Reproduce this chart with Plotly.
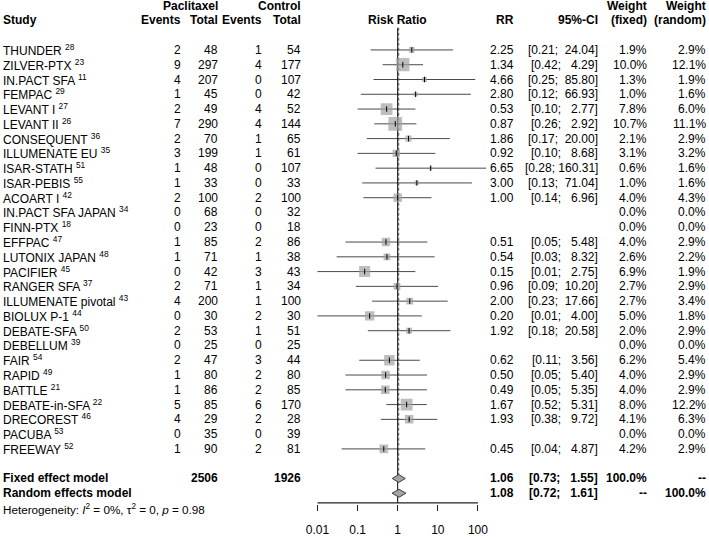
import math
import plotly.graph_objects as go

# ---------------- data ----------------
studies = ["THUNDER", "ZILVER-PTX", "IN.PACT SFA", "FEMPAC", "LEVANT I", "LEVANT II",
           "CONSEQUENT", "ILLUMENATE EU", "ISAR-STATH", "ISAR-PEBIS", "ACOART I",
           "IN.PACT SFA JAPAN", "FINN-PTX", "EFFPAC", "LUTONIX JAPAN", "PACIFIER",
           "RANGER SFA", "ILLUMENATE pivotal", "BIOLUX P-1", "DEBATE-SFA", "DEBELLUM",
           "FAIR", "RAPID", "BATTLE", "DEBATE-in-SFA", "DRECOREST", "PACUBA", "FREEWAY"]
refs = ["28", "23", "11", "29", "27", "26", "36", "35", "51", "55", "42", "34", "18", "47",
        "48", "45", "37", "43", "44", "50", "39", "54", "49", "21", "22", "46", "53", "52"]
pac_events = [2, 9, 4, 1, 2, 7, 2, 3, 1, 1, 2, 0, 0, 1, 1, 0, 2, 4, 0, 2, 0, 2, 1, 1, 5, 4, 0, 1]
pac_total = [48, 297, 207, 45, 49, 290, 70, 199, 48, 33, 100, 68, 23, 85, 71, 42, 71, 200,
             30, 53, 25, 47, 80, 86, 85, 29, 35, 90]
ctl_events = [1, 4, 0, 0, 4, 4, 1, 1, 0, 0, 2, 0, 0, 2, 1, 3, 1, 1, 2, 1, 0, 3, 2, 2, 6, 2, 0, 2]
ctl_total = [54, 177, 107, 42, 52, 144, 65, 61, 107, 33, 100, 32, 18, 86, 38, 43, 34, 100,
             30, 51, 25, 44, 80, 85, 170, 28, 39, 81]
rr = [2.25, 1.34, 4.66, 2.80, 0.53, 0.87, 1.86, 0.92, 6.65, 3.00, 1.00, None, None, 0.51,
      0.54, 0.15, 0.96, 2.00, 0.20, 1.92, None, 0.62, 0.50, 0.49, 1.67, 1.93, None, 0.45]
ci_low = [0.21, 0.42, 0.25, 0.12, 0.10, 0.26, 0.17, 0.10, 0.28, 0.13, 0.14, None, None, 0.05,
          0.03, 0.01, 0.09, 0.23, 0.01, 0.18, None, 0.11, 0.05, 0.05, 0.52, 0.38, None, 0.04]
ci_high = [24.04, 4.29, 85.80, 66.93, 2.77, 2.92, 20.00, 8.68, 160.31, 71.04, 6.96, None, None,
           5.48, 8.32, 2.75, 10.20, 17.66, 4.00, 20.58, None, 3.56, 5.40, 5.35, 5.31, 9.72,
           None, 4.87]
w_fixed = [1.9, 10.0, 1.3, 1.0, 7.8, 10.7, 2.1, 3.1, 0.6, 1.0, 4.0, 0.0, 0.0, 4.0, 2.6, 6.9,
           2.7, 2.7, 5.0, 2.0, 0.0, 6.2, 4.0, 4.0, 8.0, 4.1, 0.0, 4.2]
w_random = [2.9, 12.1, 1.9, 1.6, 6.0, 11.1, 2.9, 3.2, 1.6, 1.6, 4.3, 0.0, 0.0, 2.9, 2.2, 1.9,
            2.9, 3.4, 1.8, 2.9, 0.0, 5.4, 2.9, 2.9, 12.2, 6.3, 0.0, 2.9]

pac_sum_total = 2506
ctl_sum_total = 1926
fixed_est, fixed_low, fixed_high = 1.06, 0.73, 1.55
random_est, random_low, random_high = 1.08, 0.72, 1.61
axis_ticks = [0.01, 0.1, 1, 10, 100]
axis_ticktext = ["0.01", "0.1", "1", "10", "100"]

# ---------------- layout helpers ----------------
W, H = 709, 537
FONT = "Liberation Sans, Arial, sans-serif"
FS = 12
n = len(studies)
row_fixed = n + 1
row_random = n + 2
het_px = 517.0
plot_bottom_px = 511.5
axis_line_px = 510.5
row0_px = 50.7
row_px = 15.0
y_top = -row0_px / row_px
y_bot = y_top + plot_bottom_px / row_px
y_axis_line = y_top + axis_line_px / row_px

NB = "\u00a0"


def px(x):
    return x / W


def ci_text(lo, hi):
    s = "[%.2f; %6.2f]" % (lo, hi)
    return s.replace(" ", NB)


fig = go.Figure()

# CI lines
xs, ys = [], []
for i in range(n):
    if rr[i] is None:
        continue
    xs += [ci_low[i], ci_high[i], None]
    ys += [i, i, None]
fig.add_trace(go.Scatter(x=xs, y=ys, mode="lines", line=dict(color="#4a4a4a", width=1),
                         hoverinfo="skip", showlegend=False))

# reference lines
fig.add_trace(go.Scatter(x=[1, 1], y=[-1.5, y_axis_line], mode="lines",
                         line=dict(color="black", width=1), hoverinfo="skip", showlegend=False))
fig.add_trace(go.Scatter(x=[fixed_est, fixed_est], y=[-1.5, row_fixed], mode="lines",
                         line=dict(color="#555555", width=1, dash="3px,2px"),
                         hoverinfo="skip", showlegend=False))

# x axis line spanning the labelled ticks only
fig.add_trace(go.Scatter(x=[axis_ticks[0], axis_ticks[-1]], y=[y_axis_line, y_axis_line],
                         mode="lines", line=dict(color="#222222", width=1.1),
                         hoverinfo="skip", showlegend=False))

# squares
sx, sy, ss = [], [], []
for i in range(n):
    if rr[i] is None:
        continue
    sx.append(rr[i])
    sy.append(i)
    ss.append(4.2 * math.sqrt(w_fixed[i]))
fig.add_trace(go.Scatter(x=sx, y=sy, mode="markers",
                         marker=dict(symbol="square", size=ss, color="#a3a3a3",
                                     line=dict(width=0)),
                         hoverinfo="skip", showlegend=False))
fig.add_trace(go.Scatter(x=sx, y=sy, mode="markers",
                         marker=dict(symbol="line-ns-open", size=4, color="black",
                                     line=dict(color="black", width=1)),
                         hoverinfo="skip", showlegend=False))

# diamonds
for est, lo, hi, r in [(fixed_est, fixed_low, fixed_high, row_fixed),
                       (random_est, random_low, random_high, row_random)]:
    fig.add_trace(go.Scatter(x=[lo, est, hi, est, lo], y=[r, r - 0.27, r, r + 0.27, r],
                             mode="lines", fill="toself", fillcolor="#a3a3a3",
                             line=dict(color="#404040", width=1),
                             hoverinfo="skip", showlegend=False))

# ---------------- text columns ----------------
annotations = []


def add_text(text, xpix, row, anchor="right", bold=False, size=FS, paper_y=None):
    if bold:
        text = "<b>" + text + "</b>"
    ann = dict(text=text, x=px(xpix), xref="paper", xanchor=anchor, yanchor="middle",
               showarrow=False, font=dict(family=FONT, size=size, color="black"),
               borderpad=0)
    if paper_y is None:
        ann.update(y=row, yref="y")
    else:
        ann.update(y=paper_y, yref="paper")
    annotations.append(ann)


COL_STUDY = 2
COL_PE = 182
COL_PT = 219
COL_CE = 263
COL_CT = 302
COL_RR = 515
COL_CI = 599
COL_WF = 648
COL_WR = 707

# headers
add_text("Paclitaxel", COL_PT, -3, bold=True)
add_text("Control", COL_CT, -3, bold=True)
add_text("Weight", COL_WF, -3, bold=True)
add_text("Weight", COL_WR, -3, bold=True)
add_text("Study", COL_STUDY, -2, anchor="left", bold=True)
add_text("Events", COL_PE, -2, bold=True)
add_text("Total", COL_PT, -2, bold=True)
add_text("Events", COL_CE, -2, bold=True)
add_text("Total", COL_CT, -2, bold=True)
add_text("Risk Ratio", 397.7, -2, anchor="center", bold=True)
add_text("RR", COL_RR, -2, bold=True)
add_text("95%-CI", COL_CI, -2, bold=True)
add_text("(fixed)", COL_WF, -2, bold=True)
add_text("(random)", COL_WR, -2, bold=True)

for i in range(n):
    add_text("%s <sup>%s</sup>" % (studies[i], refs[i]), COL_STUDY, i, anchor="left")
    add_text(str(pac_events[i]), COL_PE, i)
    add_text(str(pac_total[i]), COL_PT, i)
    add_text(str(ctl_events[i]), COL_CE, i)
    add_text(str(ctl_total[i]), COL_CT, i)
    if rr[i] is not None:
        add_text("%.2f" % rr[i], COL_RR, i)
        add_text(ci_text(ci_low[i], ci_high[i]), COL_CI, i)
    add_text("%.1f%%" % w_fixed[i], COL_WF, i)
    add_text("%.1f%%" % w_random[i], COL_WR, i)

add_text("Fixed effect model", COL_STUDY, row_fixed, anchor="left", bold=True)
add_text(str(pac_sum_total), COL_PT, row_fixed, bold=True)
add_text(str(ctl_sum_total), COL_CT, row_fixed, bold=True)
add_text("%.2f" % fixed_est, COL_RR, row_fixed, bold=True)
add_text(ci_text(fixed_low, fixed_high), COL_CI, row_fixed, bold=True)
add_text("100.0%", COL_WF, row_fixed, bold=True)
add_text("--", COL_WR, row_fixed, bold=True)

add_text("Random effects model", COL_STUDY, row_random, anchor="left", bold=True)
add_text("%.2f" % random_est, COL_RR, row_random, bold=True)
add_text(ci_text(random_low, random_high), COL_CI, row_random, bold=True)
add_text("--", COL_WF, row_random, bold=True)
add_text("100.0%", COL_WR, row_random, bold=True)

add_text("Heterogeneity: <i>I</i><sup>2</sup> = 0%, \u03c4<sup>2</sup> = 0, <i>p</i> = 0.98",
         COL_STUDY, None, anchor="left", size=11.7, paper_y=1 - het_px / H)

# ---------------- axes ----------------
x_center_px = 397.7
decade_px = 40.1
x_half = 2.5
dom0 = (x_center_px - x_half * decade_px) / W
dom1 = (x_center_px + x_half * decade_px) / W

y_dom0 = (H - plot_bottom_px) / H

fig.update_layout(
    width=W, height=H,
    margin=dict(l=0, r=0, t=0, b=0),
    paper_bgcolor="white", plot_bgcolor="white",
    showlegend=False,
    annotations=annotations,
    xaxis=dict(type="log", range=[-x_half, x_half], domain=[dom0, dom1],
               showgrid=False, zeroline=False, showline=False,
               ticks="outside", ticklen=6, tickwidth=1, tickcolor="#222222",
               tickvals=axis_ticks, ticktext=axis_ticktext,
               tickfont=dict(family=FONT, size=FS, color="black"),
               ticklabelstandoff=9, fixedrange=True),
    yaxis=dict(range=[y_bot, y_top], domain=[y_dom0, 1], visible=False,
               fixedrange=True),
)

fig.write_html("out.html", config={"displayModeBar": False},
               post_script="document.body.style.margin='0';document.body.style.overflow='hidden';")
